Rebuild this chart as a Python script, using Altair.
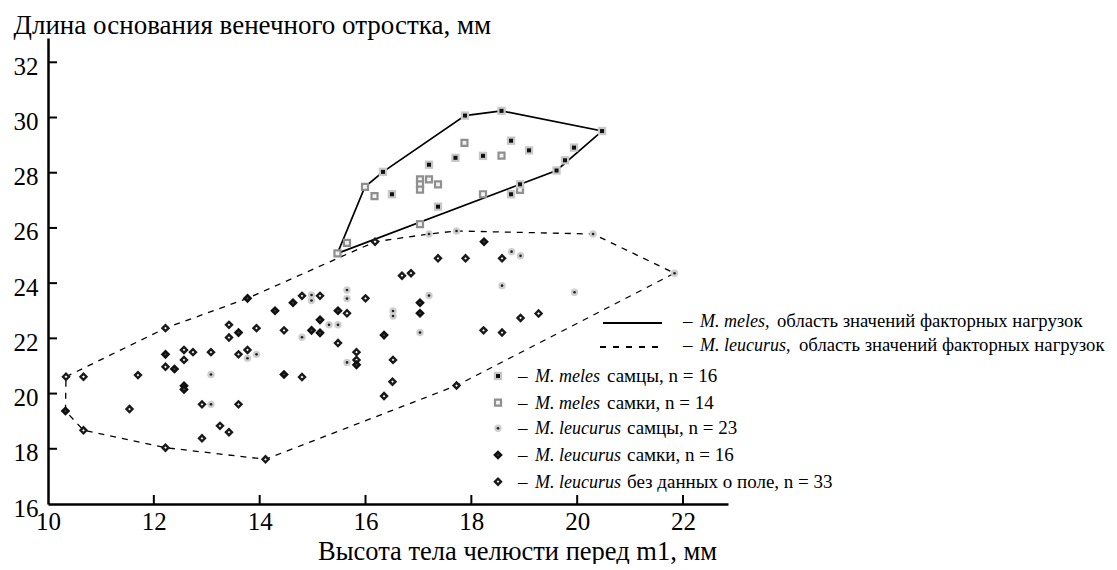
import altair as alt
import pandas as pd

# ---------------- data ----------------
meles_m_x = [16.33, 16.50, 17.20, 17.37, 17.88, 17.70, 18.22, 18.57, 18.75, 19.09, 20.47, 19.94, 19.77, 19.61, 18.92, 18.75]
meles_m_y = [28.03, 27.22, 28.29, 26.77, 30.07, 28.54, 28.61, 30.24, 29.16, 28.81, 29.51, 28.91, 28.45, 28.08, 27.58, 27.22]

meles_f_x = [15.47, 15.65, 15.99, 16.17, 17.03, 17.03, 17.03, 17.20, 17.37, 17.03, 17.87, 18.22, 18.57, 18.92]
meles_f_y = [25.08, 25.46, 27.49, 27.15, 27.76, 27.58, 27.39, 27.76, 27.58, 26.14, 29.08, 27.22, 28.62, 27.38]

leu_m_x = [13.08, 13.08, 13.77, 13.94, 14.80, 14.98, 14.98, 15.31, 15.48, 15.65, 15.65, 15.65,
           17.20, 17.72, 18.76, 18.93, 18.58, 17.20, 16.52, 16.52, 17.03, 20.30, 21.84, 19.95]
leu_m_y = [19.61, 20.69, 21.28, 21.42, 22.04, 23.57, 23.37, 22.49, 22.49, 23.75, 23.44, 21.13,
           25.78, 25.89, 25.14, 24.99, 23.91, 23.55, 22.99, 22.81, 22.21, 25.78, 24.36, 23.67]

leu_f_x = [10.33, 12.22, 12.39, 12.57, 12.57, 13.60, 13.77, 14.29, 14.46, 14.63, 14.98, 15.14,
           15.14, 15.48, 15.83, 16.35, 18.24, 17.03, 17.03]
leu_f_y = [19.37, 21.42, 20.89, 20.28, 20.15, 22.21, 23.45, 23.00, 20.69, 23.29, 22.29, 22.67,
           22.20, 23.00, 21.04, 22.12, 25.50, 23.29, 22.91]

leu_u_x = [10.34, 10.67, 10.67, 11.70, 11.54, 12.22, 12.22, 12.57, 12.57, 12.74, 12.22, 12.91,
           13.08, 12.91, 13.25, 13.42, 13.60, 13.42, 13.42, 13.60, 13.77, 13.94, 14.11, 14.46,
           14.80, 14.80, 15.14, 15.65, 15.48, 15.83, 15.83, 16.00, 16.35, 16.18, 17.37, 17.89,
           18.58, 16.69, 16.86, 18.23, 18.58, 18.93, 19.27, 16.52, 16.51, 17.72]
leu_u_y = [20.61, 20.61, 18.67, 20.67, 19.44, 22.37, 20.97, 21.58, 21.22, 21.50, 18.04, 19.61,
           21.50, 18.38, 18.83, 18.60, 19.61, 22.03, 22.49, 21.42, 21.58, 22.37, 17.62, 22.29,
           23.54, 20.60, 23.54, 22.91, 21.83, 21.50, 21.22, 23.45, 19.91, 25.50, 24.90, 24.90,
           24.90, 24.27, 24.36, 22.29, 22.21, 22.74, 22.90, 21.22, 20.43, 20.29]

meles_hull_x = [15.47, 15.99, 16.33, 17.88, 18.57, 20.47, 19.61, 15.47]
meles_hull_y = [25.08, 27.49, 28.03, 30.07, 30.24, 29.51, 28.08, 25.08]

leu_hull_x = [10.34, 12.22, 13.77, 16.18, 17.20, 17.72, 20.30, 21.84, 17.72, 14.11, 12.22, 10.67, 10.33, 10.34]
leu_hull_y = [20.61, 22.37, 23.45, 25.50, 25.78, 25.89, 25.78, 24.36, 20.29, 17.62, 18.04, 18.67, 19.37, 20.61]

x_ticks = [10, 12, 14, 16, 18, 20, 22]
y_ticks = [16, 18, 20, 22, 24, 26, 28, 30, 32]

x_title = "Высота тела челюсти перед m1, мм"
y_title = "Длина основания венечного отростка, мм"

legend_lines = [("M. meles,", "область значений факторных нагрузок"),
                ("M. leucurus,", "область значений факторных нагрузок")]
legend_points = [("M. meles", "самцы, n = 16"),
                 ("M. meles", "самки, n = 14"),
                 ("M. leucurus", "самцы, n = 23"),
                 ("M. leucurus", "самки, n = 16"),
                 ("M. leucurus", "без данных о поле, n = 33")]

# ---------------- layout / style ----------------
W, H = 680, 466
FONT = "Liberation Serif"

xscale = alt.Scale(domain=[10, 22.85], nice=False, zero=False)
yscale = alt.Scale(domain=[16, 32.88], nice=False, zero=False)

xaxis = alt.Axis(values=x_ticks, format="d", grid=False, ticks=False, tickSize=0,
                 domainColor="black", domainWidth=2.5, labelFont=FONT, labelFontSize=25,
                 labelColor="black", labelPadding=5, labelFlush=False, labelOverlap=False,
                 title=x_title, titleFont=FONT, titleFontSize=26.5, titleFontWeight="normal",
                 titleColor="black", titleX=469, titleY=55, titleAlign="center",
                 titleBaseline="alphabetic", titleAngle=0)
yaxis = alt.Axis(values=y_ticks, format="d", grid=False, ticks=False, tickSize=0,
                 domainColor="black", domainWidth=2.5, labelFont=FONT, labelFontSize=25,
                 labelColor="black", labelPadding=10, labelFlush=False, labelOverlap=False,
                 labelOffset=4,
                 title=y_title, titleFont=FONT, titleFontSize=27, titleFontWeight="normal",
                 titleColor="black", titleX=-35, titleY=-5, titleAlign="left",
                 titleBaseline="alphabetic", titleAngle=0)

X = alt.X("x:Q", scale=xscale, axis=xaxis)
Y = alt.Y("y:Q", scale=yscale, axis=yaxis)


def df_xy(xs, ys):
    return pd.DataFrame({"x": xs, "y": ys, "i": list(range(len(xs)))})


STYLES = {
    "meles_m": [dict(shape="square", size=70, fill="#c8c8c8", strokeWidth=0),
                dict(shape="square", size=16, fill="#111111", strokeWidth=0)],
    "meles_f": [dict(shape="square", size=36, fill="#f2f2f2", stroke="#8f8f8f", strokeWidth=2.2)],
    "leu_m": [dict(shape="circle", size=55, fill="#cfcfcf", strokeWidth=0),
              dict(shape="circle", size=7, fill="#222222", strokeWidth=0)],
    "leu_f": [dict(shape="diamond", size=36, fill="#4a4a4a", stroke="#111111", strokeWidth=2.6)],
    "leu_u": [dict(shape="diamond", size=36, fill="white", stroke="#1a1a1a", strokeWidth=2.4)],
}


def point_layers(df, key):
    out = []
    for st in STYLES[key]:
        out.append(alt.Chart(df).mark_point(filled=True, opacity=1, **st).encode(x=X, y=Y))
    return out


def legend_symbol(key, px, py):
    one = pd.DataFrame({"k": [0]})
    return [alt.Chart(one).mark_point(filled=True, opacity=1, **st).encode(
        x=alt.value(px), y=alt.value(py)) for st in STYLES[key]]


def legend_text(txt, px, py, italic=False, size=19):
    one = pd.DataFrame({"k": [0]})
    kw = dict(text=txt, align="left", baseline="alphabetic", font=FONT, fontSize=size,
              color="black")
    if italic:
        kw["fontStyle"] = "italic"
    return alt.Chart(one).mark_text(**kw).encode(x=alt.value(px), y=alt.value(py))


layers = []

# hulls
layers.append(alt.Chart(df_xy(leu_hull_x, leu_hull_y)).mark_line(
    color="black", strokeWidth=1.3, strokeDash=[6, 6]).encode(x=X, y=Y, order="i:Q"))
layers.append(alt.Chart(df_xy(meles_hull_x, meles_hull_y)).mark_line(
    color="black", strokeWidth=1.7).encode(x=X, y=Y, order="i:Q"))

# inward ticks
layers.append(alt.Chart(pd.DataFrame({"x": x_ticks[1:]})).mark_rule(
    color="black", strokeWidth=2).encode(x=X, y=alt.value(H), y2=alt.value(H - 9)))
layers.append(alt.Chart(pd.DataFrame({"y": y_ticks[1:]})).mark_rule(
    color="black", strokeWidth=2).encode(y=Y, x=alt.value(0), x2=alt.value(9)))

# points
layers += point_layers(df_xy(leu_u_x, leu_u_y), "leu_u")
layers += point_layers(df_xy(leu_f_x, leu_f_y), "leu_f")
layers += point_layers(df_xy(leu_m_x, leu_m_y), "leu_m")
layers += point_layers(df_xy(meles_f_x, meles_f_y), "meles_f")
layers += point_layers(df_xy(meles_m_x, meles_m_y), "meles_m")

# legend: hull lines
one = pd.DataFrame({"k": [0]})
layers.append(alt.Chart(one).mark_rule(color="black", strokeWidth=2).encode(
    x=alt.value(555), x2=alt.value(614), y=alt.value(285)))
layers.append(alt.Chart(one).mark_rule(color="black", strokeWidth=2, strokeDash=[6, 7]).encode(
    x=alt.value(552), x2=alt.value(616), y=alt.value(309)))
line_rows = [(289, 729), (313, 751)]
for (sp, rest), (by, rx) in zip(legend_lines, line_rows):
    layers.append(legend_text("–", 635, by))
    layers.append(legend_text(sp, 652, by, italic=True, size=18))
    layers.append(legend_text(rest, rx, by, size=18.7))

# legend: point symbols
sym_keys = ["meles_m", "meles_f", "leu_m", "leu_f", "leu_u"]
row_y = [338, 364.7, 390.3, 417, 443.7]
for key, (sp, rest), ry in zip(sym_keys, legend_points, row_y):
    layers += legend_symbol(key, 450, ry)
    layers.append(legend_text("–", 470, ry + 6))
    layers.append(legend_text(sp, 487, ry + 6, italic=True, size=18))
    layers.append(legend_text(rest, 559 if "meles" in sp else 579, ry + 6))

chart = alt.layer(*layers).properties(
    width=W, height=H,
    background="white",
    autosize=alt.AutoSizeParams(type="none"),
    padding={"left": 40, "top": 30, "right": 380, "bottom": 60},
).configure_view(strokeWidth=0)

chart.save("out.html", embed_options={"renderer": "svg", "actions": False})
